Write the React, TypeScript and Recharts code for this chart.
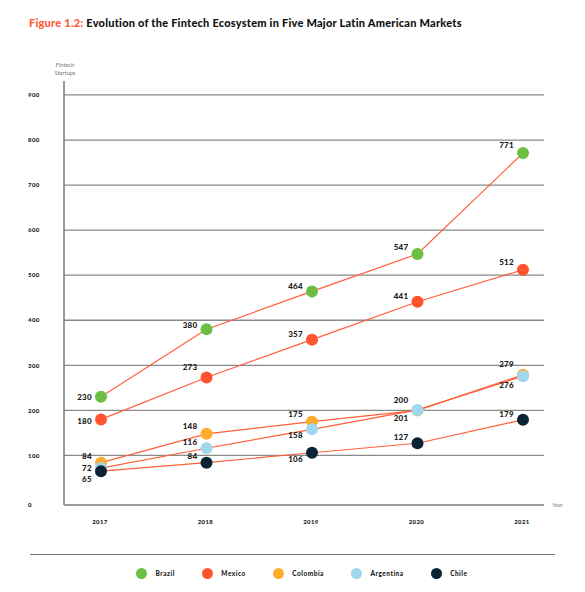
import React from "react";
import { LineChart, Line, XAxis, YAxis, CartesianGrid, LabelList } from "recharts";

const years = ["2017", "2018", "2019", "2020", "2021"];
const brazil = [230, 380, 464, 547, 771];
const mexico = [180, 273, 357, 441, 512];
const colombia = [84, 148, 175, 200, 279];
const argentina = [72, 116, 158, 201, 276];
const chile = [65, 84, 106, 127, 179];
const yTicks = [0, 100, 200, 300, 400, 500, 600, 700, 800, 900];

const LINE = "#FF5F3A";
const FONT = "Lato, 'Open Sans', sans-serif";

const series = [
  { key: "Brazil", values: brazil, color: "#6CBF44", dy: [0, -4, -5, -7, -8] },
  { key: "Mexico", values: mexico, color: "#FF552E", dy: [2, -10, -5, -6, -8] },
  { key: "Colombia", values: colombia, color: "#FFAB2E", dy: [-6, -8, -7, -10, -11] },
  { key: "Argentina", values: argentina, color: "#9DD8EF", dy: [0, -6, 6, 8, 9] },
  { key: "Chile", values: chile, color: "#0B2434", dy: [8, -6, 6, -6, -6] },
];

const data = years.map((year, i) => {
  const row: Record<string, number | string> = { year };
  series.forEach((s) => (row[s.key] = s.values[i]));
  return row;
});

const makeLabel = (dy: number[]) => (props: any) => {
  const { x, y, value, index } = props;
  return (
    <text
      x={x - 9}
      y={y + dy[index] + 2.8}
      textAnchor="end"
      fontSize={8}
      fontWeight={900}
      letterSpacing={0.3}
      fontFamily={FONT}
      fill="#1a1a1a"
    >
      {value}
    </text>
  );
};

const YTick = (props: any) => {
  const { y, payload } = props;
  const shift = payload.value === 0 ? 4.5 : 0;
  return (
    <text x={28} y={y + shift + 2.2} fontSize={6} fontWeight={900} letterSpacing={0.4} fontFamily={FONT} fill="#1a1a1a">
      {payload.value}
    </text>
  );
};

const XTick = (props: any) => {
  const { x, payload } = props;
  return (
    <text x={x - 1} y={524} textAnchor="middle" fontSize={6} fontWeight={900} letterSpacing={0.4} fontFamily={FONT} fill="#1a1a1a">
      {payload.value}
    </text>
  );
};

export default function App() {
  return (
    <div style={{ position: "absolute", left: 0, top: 0, width: 585, height: 592, background: "#fff", fontFamily: FONT }}>
      <div style={{ position: "absolute", left: 29, top: 16, fontSize: 11, fontWeight: 900, letterSpacing: 0.23, color: "#111", whiteSpace: "nowrap" }}>
        <span style={{ color: "#FF5A36" }}>Figure 1.2:</span> Evolution of the Fintech Ecosystem in Five Major Latin American Markets
      </div>
      <div style={{ position: "absolute", left: 45, top: 61, width: 40, textAlign: "center", fontSize: 6, fontStyle: "italic", color: "#777", lineHeight: "8px" }}>
        Fintech
        <br />
        Startups
      </div>
      <div style={{ position: "absolute", left: 552, top: 501, fontSize: 6, fontStyle: "italic", color: "#888" }}>Year</div>
      <div style={{ position: "absolute", left: 0, top: 0 }}>
        <LineChart width={585} height={525} data={data} margin={{ top: 81, right: 41, left: 0, bottom: 0 }}>
          <CartesianGrid vertical={false} horizontalValues={yTicks.slice(1)} stroke="#8a8a8a" strokeWidth={1.3} />
          <XAxis
            dataKey="year"
            height={20}
            padding={{ left: 37, right: 21 }}
            tickLine={false}
            axisLine={{ stroke: "#7a7a7a", strokeWidth: 1.5 }}
            tick={<XTick />}
          />
          <YAxis
            width={64}
            domain={[-10, 931]}
            ticks={yTicks}
            tickLine={false}
            axisLine={{ stroke: "#7a7a7a", strokeWidth: 1.5 }}
            tick={<YTick />}
            allowDataOverflow
          />
          {series.map((s) => (
            <Line
              key={s.key}
              dataKey={s.key}
              stroke={LINE}
              strokeWidth={1.2}
              type="linear"
              dot={{ r: 6, fill: s.color, stroke: "none", fillOpacity: 1 }}
              activeDot={false}
              isAnimationActive={false}
            >
              <LabelList dataKey={s.key} content={makeLabel(s.dy)} />
            </Line>
          ))}
        </LineChart>
      </div>
      <div style={{ position: "absolute", left: 30, top: 554, width: 525, height: 0, borderTop: "1.5px solid #777" }} />
      <div style={{ position: "absolute", left: 136, top: 568, display: "flex", alignItems: "center" }}>
        {series.map((s) => (
          <div key={s.key} style={{ display: "flex", alignItems: "center", marginRight: 27 }}>
            <div style={{ width: 11, height: 11, borderRadius: "50%", background: s.color, marginRight: 8.5 }} />
            <span style={{ fontSize: 6.5, fontWeight: 900, letterSpacing: 0.5, color: "#1a1a1a" }}>{s.key}</span>
          </div>
        ))}
      </div>
    </div>
  );
}
